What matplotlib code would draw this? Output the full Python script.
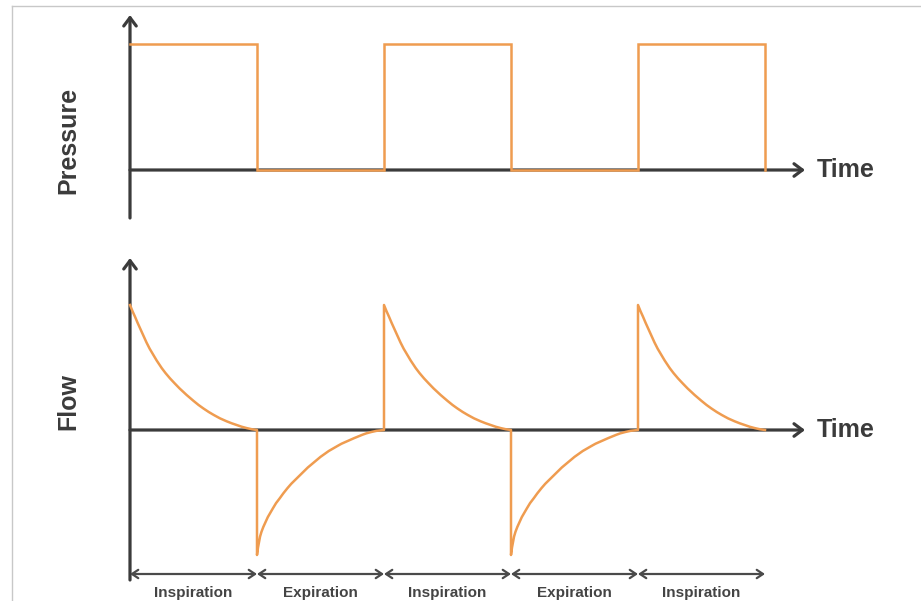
import matplotlib
matplotlib.use("Agg")
import matplotlib.pyplot as plt
from matplotlib.lines import Line2D

plt.rcParams["font.family"] = ["Liberation Sans", "DejaVu Sans"]

# phases of the breathing cycle (one unit of time each)
phases = ["Inspiration", "Expiration", "Inspiration", "Expiration", "Inspiration"]
pressure_level = [1, 0, 1, 0, 1]

# flow shape within one phase (t = fraction of phase)
insp_t = [0.0, 0.02, 0.04, 0.06, 0.079, 0.10, 0.13, 0.155, 0.184, 0.21, 0.25, 0.28,
          0.315, 0.35, 0.39, 0.42, 0.446, 0.50, 0.54, 0.577, 0.62, 0.66, 0.709,
          0.76, 0.80, 0.84, 0.88, 0.92, 0.96, 1.0]
insp_flow = [1.0, 0.95, 0.905, 0.857, 0.814, 0.765, 0.70, 0.65, 0.60, 0.556, 0.495,
             0.455, 0.413, 0.375, 0.333, 0.305, 0.28, 0.233, 0.20, 0.173, 0.144,
             0.12, 0.093, 0.07, 0.054, 0.04, 0.026, 0.015, 0.006, 0.0]
exp_t = [0.0, 0.008, 0.015, 0.024, 0.035, 0.05, 0.07, 0.085, 0.102, 0.125, 0.15,
         0.18, 0.207, 0.24, 0.27, 0.30, 0.339, 0.37, 0.40, 0.435, 0.47, 0.50, 0.535,
         0.565, 0.60, 0.635, 0.665, 0.70, 0.73, 0.765, 0.80, 0.83, 0.86, 0.90, 0.94, 1.0]
exp_flow = [-1.0, -0.94, -0.90, -0.853, -0.815, -0.775, -0.73, -0.697, -0.667,
            -0.627, -0.585, -0.545, -0.507, -0.465, -0.43, -0.40, -0.36, -0.33,
            -0.30, -0.27, -0.24, -0.215, -0.19, -0.168, -0.147, -0.127, -0.11,
            -0.094, -0.08, -0.065, -0.05, -0.038, -0.027, -0.016, -0.007, 0.0]

ORANGE = "#ef9c50"
DARK = "#3b3b3b"
W, H = 921, 601

fig = plt.figure(figsize=(W / 100, H / 100), dpi=100)
fig.patch.set_facecolor("white")

# layout: y-axis at px 130, one phase = 127 px
x0, xs = 130, 127
xlim = ((0 - x0) / xs, (W - x0) / xs)

# top panel: pressure 0 at px 170, 1 at px 44
ax1 = fig.add_axes([0, (H - 240) / H, 1, 240 / H])
ax1.set_xlim(*xlim)
ax1.set_ylim((170 - 240) / 126, (170 - 0) / 126)

# bottom panel: flow 0 at px 430, 1 at px 305
ax2 = fig.add_axes([0, 0, 1, 361 / H])
ax2.set_xlim(*xlim)
ax2.set_ylim((430 - 601) / 125, (430 - 240) / 125)

for ax in (ax1, ax2):
    ax.axis("off")

arrow_kw = dict(arrowstyle="->,head_length=0.6,head_width=0.45", color=DARK, lw=2.3,
                shrinkA=0, shrinkB=0)
t_end = len(phases)
t_tip = (805 - x0) / xs

# pressure axes
ax1.annotate("", xy=(0, (170 - 15) / 126), xytext=(0, (170 - 218) / 126), arrowprops=arrow_kw)
ax1.annotate("", xy=(t_tip, 0), xytext=(0, 0), arrowprops=arrow_kw)
ax1.text(t_tip + 0.09, 0, "Time", fontsize=18, fontweight="bold", color=DARK,
         ha="left", va="center")
ax1.text((68 - x0) / xs, (170 - 140) / 126, "Pressure", fontsize=18, fontweight="bold",
         color=DARK, rotation=90, ha="center", va="center")

# pressure square wave
px, py = [], []
for i, lvl in enumerate(pressure_level):
    px += [i, i + 1]
    py += [lvl, lvl]
px.append(t_end)
py.append(0)
ax1.plot(px, py, color=ORANGE, lw=1.8, solid_joinstyle="miter", zorder=3)

# flow axes
ax2.annotate("", xy=(0, (430 - 258) / 125), xytext=(0, (430 - 580) / 125), arrowprops=arrow_kw)
ax2.annotate("", xy=(t_tip, 0), xytext=(0, 0), arrowprops=arrow_kw)
ax2.text(t_tip + 0.09, 0, "Time", fontsize=18, fontweight="bold", color=DARK,
         ha="left", va="center")
ax2.text((68 - x0) / xs, (430 - 402) / 125, "Flow", fontsize=18, fontweight="bold",
         color=DARK, rotation=90, ha="center", va="center")

# flow waveform
fx, fy = [], []
for i, name in enumerate(phases):
    if name == "Inspiration":
        fx += [i + t for t in insp_t]
        fy += insp_flow
    else:
        fx += [i + t for t in exp_t]
        fy += exp_flow
ax2.plot(fx, fy, color=ORANGE, lw=1.8, solid_joinstyle="round", zorder=3)

# phase markers
y_ph = (430 - 574) / 125
y_lab = (430 - 593) / 125
ph_kw = dict(arrowstyle="<->,head_length=0.45,head_width=0.3", color="#4a4a4a", lw=1.6,
             shrinkA=0, shrinkB=0)
for i, name in enumerate(phases):
    ax2.annotate("", xy=(i + 1, y_ph), xytext=(i, y_ph), arrowprops=ph_kw)
    ax2.text(i + 0.5, y_lab, name, fontsize=11, fontweight="bold", color="#444444",
             ha="center", va="center")

# thin frame at top and left
fig.add_artist(Line2D([12 / W, 1], [1 - 6 / H, 1 - 6 / H], color="#c8c8c8", lw=1.0))
fig.add_artist(Line2D([12 / W, 12 / W], [0, 1 - 6 / H], color="#c8c8c8", lw=1.0))

fig.savefig("out.png", dpi=100, facecolor="white")
